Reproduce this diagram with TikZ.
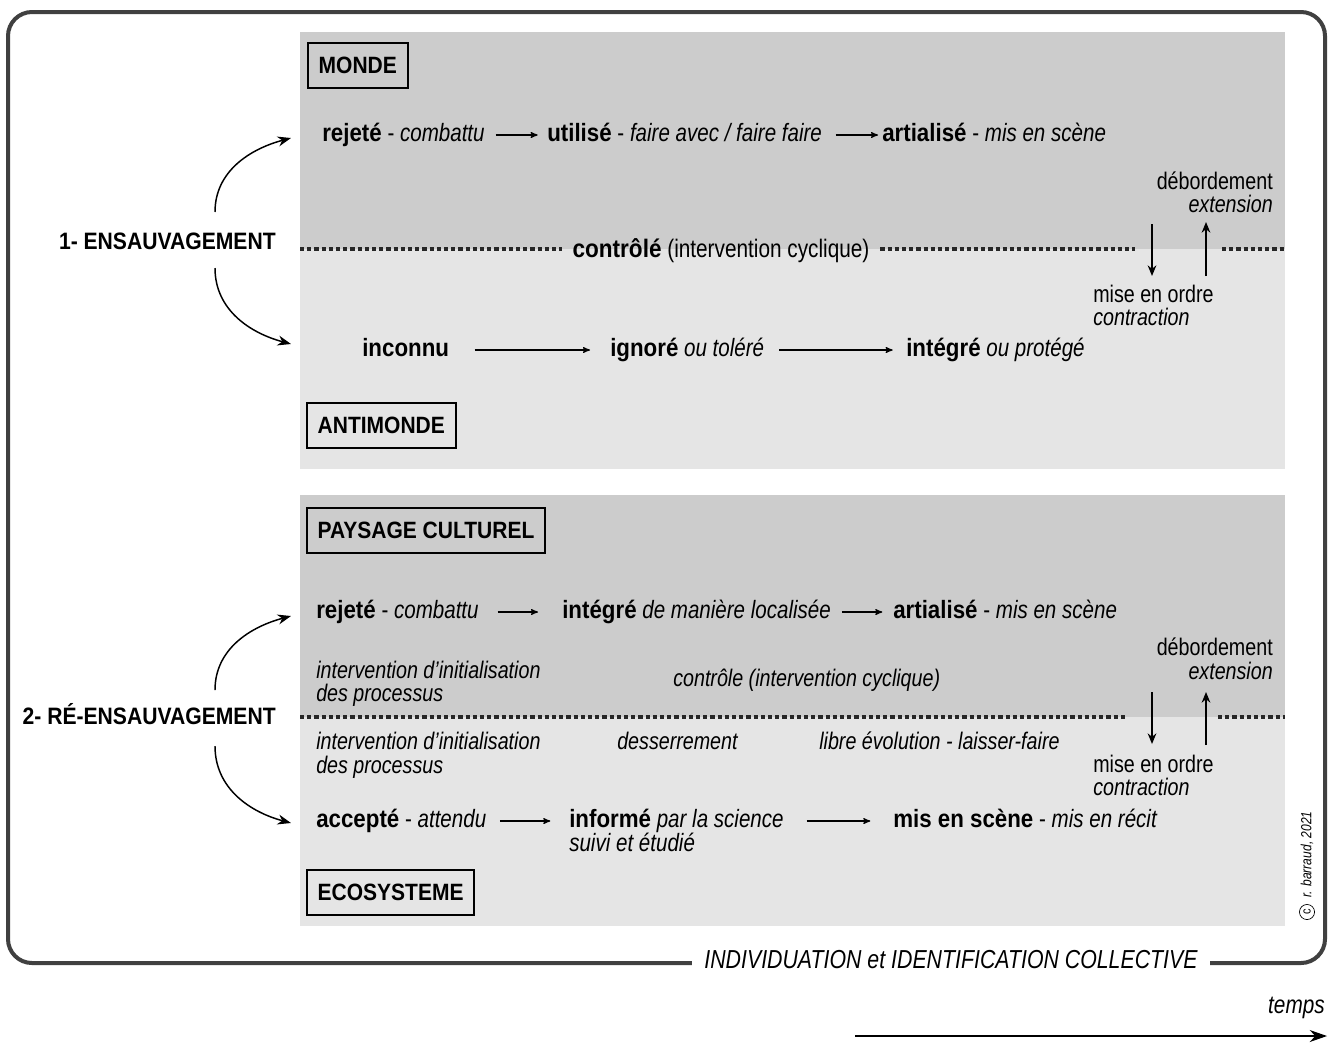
\documentclass[tikz,border=0pt]{standalone}
\usepackage{fontspec}
\setmainfont{Liberation Sans}[FakeStretch=0.82, BoldFeatures={FakeStretch=0.89}, BoldItalicFeatures={FakeStretch=0.89}]
\usetikzlibrary{arrows,arrows.meta,positioning}
\definecolor{panelgray}{gray}{0.8}
\definecolor{panellight}{gray}{0.9}
\definecolor{framegray}{gray}{0.25}

\begin{document}
\begin{tikzpicture}[>=stealth', x=0.75pt, y=-0.75pt,
    txt/.style={font=\fontsize{18}{21}\selectfont, inner sep=0pt, text height=13pt, text depth=4pt},
    ittxt/.style={txt, font=\itshape\fontsize{18}{21}\selectfont},
    rowtxt/.style={txt, font=\fontsize{18.8}{21}\selectfont, anchor=base west},
    lbl/.style={draw, line width=1.5pt, font=\bfseries\fontsize{17.7}{22}\selectfont, inner xsep=8pt, minimum height=34pt, anchor=north west},
    side/.style={font=\bfseries\fontsize{17.8}{22}\selectfont, inner sep=0pt, anchor=base east},
    flow/.style={->, line width=0.9pt},
    curvearrow/.style={-{Stealth[length=10pt, width=7.5pt]}, line width=1.1pt},
    updown/.style={-{Stealth[length=8pt, width=6.5pt]}, line width=1pt},
    dotline/.style={line width=3pt, dash pattern=on 3.2pt off 2.2pt, black!85}]

    \useasboundingbox (0,0) rectangle (1333,1043);

    % panels
    \fill[panelgray] (300,32) rectangle (1285,249);
    \fill[panellight] (300,249) rectangle (1285,469);
    \fill[panelgray] (300,495) rectangle (1285,717);
    \fill[panellight] (300,717) rectangle (1285,926);

    % outer frame
    \draw[framegray, line width=3pt, rounded corners=18pt] (8,12) rectangle (1325,963);
    \node[txt, fill=white, inner xsep=9pt, inner ysep=3pt, font=\itshape\fontsize{19.5}{22}\selectfont] (indiv) at (951,962) {INDIVIDUATION et IDENTIFICATION COLLECTIVE};

    % ---- 1- ensauvagement
    \node[lbl] (monde) at (307,42) {MONDE};
    \node[lbl] (antimonde) at (306,402) {ANTIMONDE};
    \node[side] (ens) at (276,249) {1- ENSAUVAGEMENT};

    \node[rowtxt] (rej1) at (322,141) {\textbf{rejeté} - \textit{combattu}};
    \node[rowtxt] (util) at (547,141) {\textbf{utilisé} - \textit{faire avec / faire faire}};
    \node[rowtxt] (art1) at (882,141) {\textbf{artialisé} - \textit{mis en scène}};
    \draw[flow, shorten <=8pt, shorten >=7pt] (rej1) -- (util);
    \draw[flow, shorten <=10pt, shorten >=3pt] (util) -- (art1);

    \node[rowtxt] (inco) at (362,356) {\textbf{inconnu}};
    \node[rowtxt] (igno) at (610,356) {\textbf{ignoré} \textit{ou toléré}};
    \node[rowtxt] (integ1) at (906,356) {\textbf{intégré} \textit{ou protégé}};
    \draw[flow, shorten <=19pt, shorten >=15pt] (inco) -- (igno);
    \draw[flow, shorten <=11pt, shorten >=10pt] (igno) -- (integ1);

    \node[txt, font=\fontsize{19}{21}\selectfont, inner xsep=8pt, anchor=base] (ctrl1) at (721,257) {\textbf{contrôlé} (intervention cyclique)};
    \coordinate (d1a) at (300,249);
    \coordinate (d1b) at (1135,249);
    \coordinate (d1c) at (1222,249);
    \coordinate (d1d) at (1285,249);
    \draw[dotline] (d1a) -- (d1a -| ctrl1.west);
    \draw[dotline] (d1a -| ctrl1.east) -- (d1b);
    \draw[dotline] (d1c) -- (d1d);

    \node[txt, anchor=base east, text depth=0pt] (debord1) at (1273,189) {débordement};
    \node[ittxt, anchor=base east, text depth=0pt] (ext1) at (1273,212) {extension};
    \node[txt, anchor=base west, text depth=0pt] (ordre1) at (1093,302) {mise en ordre};
    \node[ittxt, anchor=base west, text depth=0pt] (contr1) at (1093,325) {contraction};
    \coordinate (dn1a) at (1152,224);
    \coordinate (dn1b) at (1152,276);
    \coordinate (up1a) at (1206,276);
    \coordinate (up1b) at (1206,222);
    \draw[updown] (dn1a) -- (dn1b);
    \draw[updown] (up1a) -- (up1b);

    \coordinate (e1up) at (215,212);
    \coordinate (e1top) at (291,138);
    \coordinate (e1dn) at (215,268);
    \coordinate (e1bot) at (291,344);
    \draw[curvearrow] (e1up) to[out=90, in=195] (e1top);
    \draw[curvearrow] (e1dn) to[out=-90, in=165] (e1bot);

    % ---- 2- re-ensauvagement
    \node[lbl] (paysage) at (306,507) {PAYSAGE CULTUREL};
    \node[lbl] (ecosys) at (306,869) {ECOSYSTEME};
    \node[side] (rens) at (276,724) {2- RÉ-ENSAUVAGEMENT};

    \node[rowtxt] (rej2) at (316,618) {\textbf{rejeté} - \textit{combattu}};
    \node[rowtxt] (integ2) at (562,618) {\textbf{intégré} \textit{de manière localisée}};
    \node[rowtxt] (art2) at (893,618) {\textbf{artialisé} - \textit{mis en scène}};
    \draw[flow, shorten <=14pt, shorten >=18pt] (rej2) -- (integ2);
    \draw[flow, shorten <=8pt, shorten >=8pt] (integ2) -- (art2);

    \node[ittxt, anchor=base west, text depth=0pt] (init1) at (316,678) {intervention d’initialisation};
    \node[ittxt, anchor=base west, text depth=0pt] (proc1) at (316,701) {des processus};
    \node[ittxt, anchor=base west] (ctrl2) at (673,686) {contrôle (intervention cyclique)};
    \node[txt, anchor=base east, text depth=0pt] (debord2) at (1273,655) {débordement};
    \node[ittxt, anchor=base east, text depth=0pt] (ext2) at (1273,679) {extension};

    \coordinate (d2a) at (300,717);
    \coordinate (d2b) at (1127,717);
    \coordinate (d2c) at (1218,717);
    \coordinate (d2d) at (1285,717);
    \draw[dotline] (d2a) -- (d2b);
    \draw[dotline] (d2c) -- (d2d);

    \node[ittxt, anchor=base west, text depth=0pt] (init2) at (316,749) {intervention d’initialisation};
    \node[ittxt, anchor=base west, text depth=0pt] (proc2) at (316,773) {des processus};
    \node[ittxt, anchor=base west] (desser) at (617,749) {desserrement};
    \node[ittxt, anchor=base west] (libre) at (819,749) {libre évolution - laisser-faire};
    \node[txt, anchor=base west, text depth=0pt] (ordre2) at (1093,772) {mise en ordre};
    \node[ittxt, anchor=base west, text depth=0pt] (contr2) at (1093,795) {contraction};
    \coordinate (dn2a) at (1152,692);
    \coordinate (dn2b) at (1152,744);
    \coordinate (up2a) at (1206,745);
    \coordinate (up2b) at (1206,692);
    \draw[updown] (dn2a) -- (dn2b);
    \draw[updown] (up2a) -- (up2b);

    \node[rowtxt] (accep) at (316,827) {\textbf{accepté} - \textit{attendu}};
    \node[rowtxt] (inform) at (569,827) {\textbf{informé} \textit{par la science}};
    \node[rowtxt, font=\itshape\fontsize{18.8}{21}\selectfont] (suivi) at (569,851) {suivi et étudié};
    \node[rowtxt] (recit) at (893,827) {\textbf{mis en scène} - \textit{mis en récit}};
    \draw[flow, shorten <=10pt, shorten >=14pt] (accep) -- (inform);
    \draw[flow, shorten <=17pt, shorten >=17pt] (inform) -- (recit);

    \coordinate (e2up) at (215,690);
    \coordinate (e2top) at (291,616);
    \coordinate (e2dn) at (215,746);
    \coordinate (e2bot) at (291,823);
    \draw[curvearrow] (e2up) to[out=90, in=195] (e2top);
    \draw[curvearrow] (e2dn) to[out=-90, in=165] (e2bot);

    % credit and time axis
    \node[draw, circle, line width=0.5pt, inner sep=1.6pt, rotate=90, font=\fontsize{10}{11}\selectfont] (copyc) at (1307,912) {c};
    \node[inner sep=0pt, rotate=90, anchor=west, font=\itshape\fontsize{11}{13}\selectfont] (credit) at (1307,898) {r. barraud, 2021};
    \node[ittxt, anchor=base east, font=\itshape\fontsize{19}{21}\selectfont] (temps) at (1325,1013) {temps};
    \coordinate (t0) at (855,1036);
    \coordinate (t1) at (1327,1036);
    \draw[-{Stealth[length=13pt, width=9pt]}, line width=1pt] (t0) -- (t1);
\end{tikzpicture}
\end{document}
